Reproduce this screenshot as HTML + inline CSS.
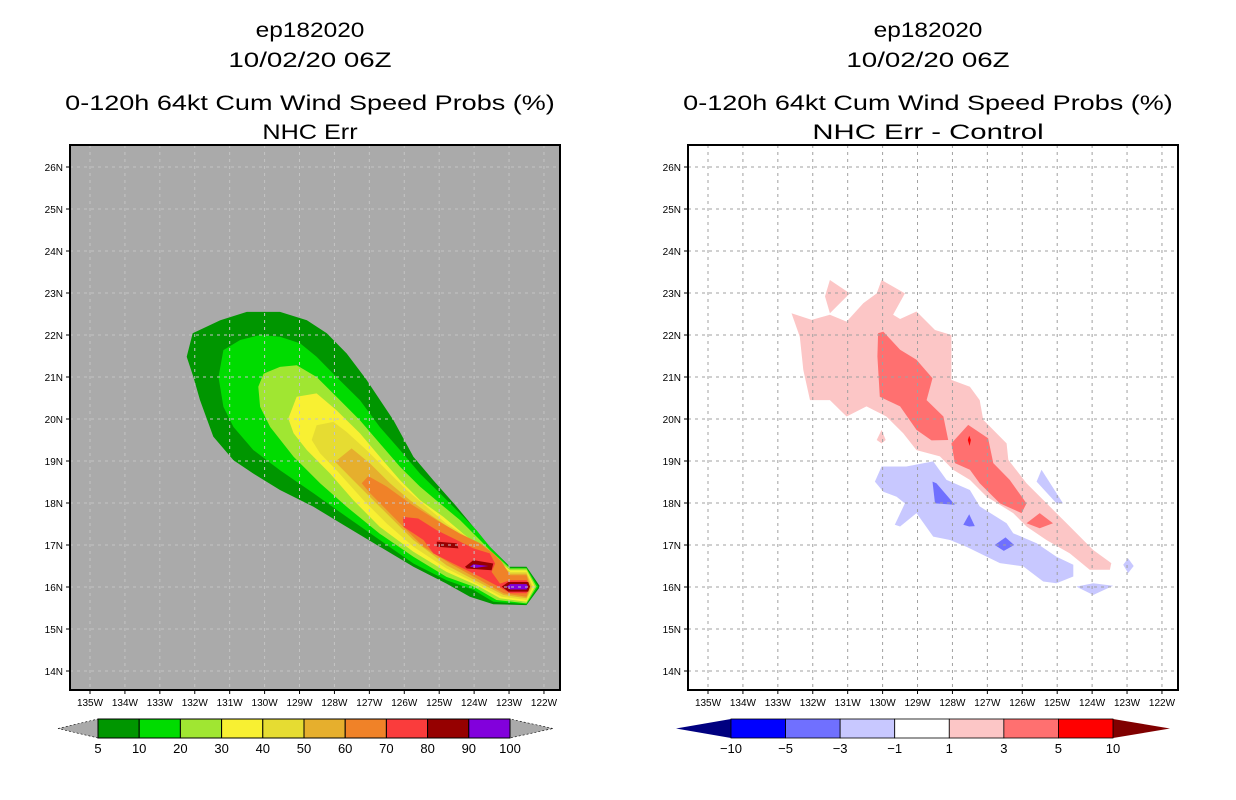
<!DOCTYPE html>
<html><head><meta charset="utf-8"><style>
html,body{margin:0;padding:0;background:#fff;width:1236px;height:800px;overflow:hidden}
svg{display:block;font-family:"Liberation Sans",sans-serif}
</style></head><body>
<svg id="chart" width="1236" height="800" viewBox="0 0 1236 800"></svg>
<script>
// ---------- data ----------
const lonTicks=[135,134,133,132,131,130,129,128,127,126,125,124,123,122];
const latTicks=[26,25,24,23,22,21,20,19,18,17,16,15,14];
const leftLevels=[5,10,20,30,40,50,60,70,80,90,100];
const leftColors=["#009600","#00dc00","#a0e632","#f8f032","#e6dc32","#e6af2d","#f08228","#fa3c3c","#960000","#8200dc"];
const rightLevels=[-10,-5,-3,-1,1,3,5,10];
const rightColors=["#0000ff","#7070ff","#c8c8ff","#ffffff","#fcc6c6","#ff7070","#ff0000"];
// left contour polygons [lonW, lat]
const p5=[[132.23,21.48],[132.06,22.04],[131.27,22.35],[130.51,22.55],[129.56,22.55],[128.79,22.35],[128.22,22.04],[127.65,21.56],[127.08,20.93],[126.31,19.97],[125.74,19.10],[125.17,18.54],[124.50,17.91],[124.02,17.43],[123.55,16.96],[122.97,16.48],[122.50,16.48],[122.11,16.01],[122.50,15.57],[123.45,15.59],[124.12,15.77],[124.79,16.08],[125.74,16.48],[126.70,16.96],[127.65,17.43],[128.60,17.91],[129.56,18.31],[130.32,18.70],[130.89,19.02],[131.47,19.58],[131.85,20.45],[132.04,21.00]];
const p10=[[131.32,21.00],[131.18,21.64],[130.70,21.88],[130.13,22.00],[129.56,21.96],[128.98,21.80],[128.51,21.48],[127.94,21.00],[127.27,20.45],[126.70,19.81],[126.12,19.26],[125.55,18.70],[124.98,18.23],[124.40,17.75],[123.93,17.35],[123.55,16.96],[122.97,16.46],[122.50,16.46],[122.16,16.01],[122.50,15.59],[123.45,15.65],[124.02,15.93],[124.79,16.16],[125.74,16.56],[126.70,17.12],[127.65,17.67],[128.60,18.23],[129.56,18.78],[130.32,19.26],[130.89,19.81],[131.18,20.29]];
const p20=[[130.18,20.77],[130.03,21.08],[129.56,21.24],[129.08,21.28],[128.51,21.00],[127.94,20.53],[127.27,19.97],[126.70,19.42],[126.12,18.86],[125.55,18.39],[124.98,17.99],[124.40,17.59],[123.93,17.20],[123.55,16.88],[122.97,16.44],[122.50,16.44],[122.21,16.01],[122.50,15.61],[123.36,15.69],[124.02,16.01],[124.79,16.24],[125.74,16.72],[126.70,17.27],[127.65,17.91],[128.41,18.47],[129.17,19.10],[129.84,19.81],[130.13,20.29]];
const p30=[[129.32,20.01],[129.08,20.53],[128.51,20.61],[127.94,20.21],[127.27,19.66],[126.70,19.10],[126.12,18.54],[125.55,18.07],[124.88,17.67],[124.31,17.27],[123.83,16.96],[123.45,16.72],[122.97,16.40],[122.50,16.40],[122.26,16.01],[122.50,15.65],[123.26,15.73],[123.93,16.04],[124.79,16.36],[125.74,16.84],[126.70,17.43],[127.46,18.07],[128.12,18.70],[128.79,19.26],[129.17,19.66]];
const p40=[[128.65,19.50],[128.51,19.85],[128.03,19.93],[127.65,19.69],[127.08,19.26],[126.50,18.78],[125.93,18.31],[125.36,17.91],[124.79,17.51],[124.21,17.20],[123.74,16.92],[123.40,16.68],[122.97,16.36],[122.50,16.36],[122.31,16.01],[122.50,15.69],[123.21,15.77],[123.93,16.08],[124.79,16.44],[125.74,16.96],[126.50,17.51],[127.17,18.07],[127.94,18.78],[128.41,19.18]];
const p50=[[127.98,18.98],[127.51,19.30],[126.98,18.94],[126.41,18.47],[125.84,18.07],[125.17,17.67],[124.60,17.35],[124.02,17.08],[123.59,16.84],[123.31,16.64],[122.97,16.32],[122.50,16.32],[122.35,16.01],[122.50,15.73],[123.16,15.81],[123.88,16.12],[124.79,16.52],[125.74,17.12],[126.31,17.59],[126.89,18.07],[127.46,18.54]];
const p60=[[127.22,18.47],[127.03,18.64],[126.50,18.39],[125.84,17.99],[125.07,17.59],[124.40,17.27],[123.83,17.04],[123.45,16.80],[123.21,16.60],[122.97,16.28],[122.50,16.28],[122.40,16.01],[122.50,15.77],[123.16,15.85],[123.83,16.16],[124.69,16.56],[125.45,16.96],[125.93,17.35],[126.50,17.83],[126.98,18.23]];
const p70=[[126.04,17.67],[125.60,17.63],[125.07,17.35],[124.50,17.12],[124.02,16.92],[123.55,16.80],[123.40,16.56],[123.50,16.36],[123.26,16.08],[122.97,16.16],[122.50,16.16],[122.40,16.01],[122.50,15.85],[122.97,15.85],[123.21,15.97],[123.83,16.24],[124.60,16.56],[125.17,16.80],[125.45,17.12],[126.02,17.43]];
const p80a=[[125.07,17.08],[124.50,17.04],[124.45,16.92],[125.07,16.96]];
const p80b=[[124.26,16.48],[124.02,16.64],[123.45,16.56],[123.50,16.40],[124.21,16.44]];
const p80c=[[123.21,16.01],[123.02,16.12],[122.45,16.12],[122.40,16.01],[122.45,15.89],[123.02,15.89]];
const p90a=[[124.12,16.48],[124.02,16.54],[123.59,16.50],[123.93,16.46]];
const p90b=[[123.07,16.01],[122.97,16.07],[122.50,16.07],[122.45,16.01],[122.50,15.94],[122.97,15.94]];
// right contour polygons
const pos1=[[132.61,22.52],[132.03,22.36],[131.51,22.48],[131.03,22.32],[130.55,22.76],[130.17,22.99],[130.03,23.31],[129.36,22.99],[129.70,22.48],[129.50,22.38],[129.03,22.56],[128.50,22.12],[128.03,22.00],[128.03,20.93],[127.50,20.77],[127.22,20.45],[127.12,19.98],[126.45,19.42],[126.40,19.03],[125.88,18.47],[125.12,17.84],[124.73,17.52],[124.35,17.20],[123.97,16.88],[123.45,16.57],[123.49,16.41],[124.07,16.41],[124.64,16.80],[125.31,17.12],[125.88,17.44],[126.26,17.76],[127.02,18.15],[127.50,18.55],[127.98,18.79],[128.36,19.11],[129.03,19.26],[129.41,19.66],[129.89,20.06],[130.46,20.30],[131.03,20.06],[131.51,20.45],[132.08,20.45],[132.27,21.17],[132.37,21.96]];
const pos1b=[[131.65,22.92],[131.51,23.31],[130.94,22.99],[131.51,22.52]];
const pos1c=[[130.17,19.50],[130.03,19.74],[129.91,19.50],[130.03,19.42]];
const pos3a=[[130.13,22.04],[129.98,22.08],[129.50,21.65],[129.03,21.41],[128.57,20.97],[128.74,20.45],[128.26,20.06],[128.12,19.50],[128.60,19.49],[129.03,19.74],[129.50,20.30],[130.08,20.53],[130.15,21.49]];
const pos3b=[[128.03,19.42],[127.55,19.86],[126.98,19.54],[126.83,18.95],[126.36,18.55],[125.88,17.99],[126.02,17.76],[126.64,17.99],[127.22,18.47],[127.50,18.79],[127.93,18.95]];
const pos3c=[[125.88,17.52],[125.50,17.76],[125.12,17.52],[125.50,17.40]];
const pos5=[[127.56,19.50],[127.52,19.60],[127.47,19.50],[127.51,19.36]];
const neg1=[[130.22,18.51],[130.03,18.87],[129.32,18.87],[128.55,18.99],[128.17,18.55],[127.50,18.31],[127.22,17.92],[126.45,17.52],[126.26,17.28],[125.59,17.04],[125.02,16.72],[124.54,16.53],[124.54,16.25],[125.02,16.09],[125.40,16.13],[125.97,16.49],[126.64,16.57],[127.60,16.96],[128.07,17.12],[128.55,17.20],[129.03,17.76],[129.50,17.44],[129.65,17.48],[129.36,17.99],[129.60,18.15],[129.98,18.27]];
const neg1b=[[125.59,18.51],[125.45,18.79],[124.83,17.99],[125.02,17.99]];
const neg1c=[[123.11,16.53],[122.97,16.68],[122.81,16.50],[122.97,16.33]];
const neg1d=[[124.45,16.01],[123.97,16.09],[123.40,16.03],[123.97,15.81]];
const neg3a=[[128.57,18.51],[128.46,18.47],[127.93,17.96],[128.50,17.99]];
const neg3b=[[127.69,17.48],[127.52,17.73],[127.36,17.45],[127.52,17.44]];
const neg3c=[[126.79,17.00],[126.48,17.18],[126.23,17.00],[126.53,16.86]];

// ---------- drawing ----------
const NS="http://www.w3.org/2000/svg";
const svg=document.getElementById('chart');
function mk(tag,attrs,parent){const e=document.createElementNS(NS,tag);for(const k in attrs)e.setAttribute(k,attrs[k]);(parent||svg).appendChild(e);return e;}
function panel(x0,name){
  const X0=x0, W=490, Y0=145, H=545;
  const xs=lw=>X0+20+(135-lw)*34.92;
  const ys=lat=>167+(26-lat)*42;
  return {X0,W,Y0,H,xs,ys,name};
}
const L=panel(70,'left'), R=panel(688,'right');

function title(p,lines,cx){
  lines.forEach((t,i)=>{
    const y=[37,67,110,139][i];
    const w=[ (t.length*13.6) ][0];
    const el=mk('text',{x:cx,y:y,'text-anchor':'middle','font-size':21,textLength:w,lengthAdjust:'spacingAndGlyphs',fill:'#000'});
    el.textContent=t;
    
    
  });
}
title(L,["ep182020","10/02/20 06Z","0-120h 64kt Cum Wind Speed Probs (%)","NHC Err"],310);
title(R,["ep182020","10/02/20 06Z","0-120h 64kt Cum Wind Speed Probs (%)","NHC Err - Control"],928);

function poly(p,pts,fill,nm){
  const d=pts.map(q=>p.xs(q[0]).toFixed(1)+','+p.ys(q[1]).toFixed(1)).join(' ');
  const e=mk('polygon',{points:d,fill:fill});
  
  
}
function frame(p,bg,gridColor){
  const g=mk('rect',{x:p.X0,y:p.Y0,width:p.W,height:p.H,fill:bg});
  
  
}
function gridAxes(p,gridColor){
  lonTicks.forEach(lw=>{
    const x=p.xs(lw);
    const gl=mk('line',{x1:x,x2:x,y1:p.Y0,y2:p.Y0+p.H,stroke:gridColor,'stroke-width':1,'stroke-dasharray':'3,4'});
    
    
    mk('line',{x1:x,x2:x,y1:p.Y0+p.H,y2:p.Y0+p.H+4,stroke:'#000','stroke-width':1});
    const t=mk('text',{x:x,y:p.Y0+p.H+16,'text-anchor':'middle','font-size':10,fill:'#000'});
    t.textContent=lw+'W';
    
    
  });
  latTicks.forEach(la=>{
    const y=p.ys(la);
    const gl=mk('line',{x1:p.X0,x2:p.X0+p.W,y1:y,y2:y,stroke:gridColor,'stroke-width':1,'stroke-dasharray':'3,4'});
    
    
    mk('line',{x1:p.X0-4,x2:p.X0,y1:y,y2:y,stroke:'#000','stroke-width':1});
    const t=mk('text',{x:p.X0-7,y:y+4,'text-anchor':'end','font-size':10,fill:'#000'});
    t.textContent=la+'N';
    
    
  });
  const b=mk('rect',{x:p.X0,y:p.Y0,width:p.W,height:p.H,fill:'none',stroke:'#000','stroke-width':2});
  
  
}
// left
frame(L,'#aaaaaa');
[[p5,0],[p10,1],[p20,2],[p30,3],[p40,4],[p50,5],[p60,6],[p70,7],[p80a,8],[p80b,8],[p80c,8],[p90a,9],[p90b,9]].forEach(([pts,i],k)=>poly(L,pts,leftColors[i],'prob-contour-'+leftLevels[i]+'-'+k));
gridAxes(L,'#c4c4c4');
// right
frame(R,'#ffffff');
[[pos1,4],[pos1b,4],[pos1c,4],[pos3a,5],[pos3b,5],[pos3c,5],[pos5,6],[neg1,2],[neg1b,2],[neg1c,2],[neg1d,2],[neg3a,1],[neg3b,1],[neg3c,1]].forEach(([pts,i],k)=>poly(R,pts,rightColors[i],'diff-contour-'+rightLevels[i]+'-'+k));
gridAxes(R,'#a0a0a0');

// colorbars
function colorbar(x0,x1,left,right,levels,colors,lc,rc,nm){
  const y0=719,y1=738,ym=728.5;
  const n=colors.length, bw=(x1-x0)/n;
  const tl=mk('polygon',{points:`${left},${ym} ${x0},${y0} ${x0},${y1}`,fill:lc,stroke:'#000','stroke-width':0.6,'stroke-dasharray':'2,2'});
  
  
  const tr=mk('polygon',{points:`${right},${ym} ${x1},${y0} ${x1},${y1}`,fill:rc,stroke:'#000','stroke-width':0.6,'stroke-dasharray':'2,2'});
  
  
  colors.forEach((c,i)=>{
    const r=mk('rect',{x:x0+i*bw,y:y0,width:bw,height:y1-y0,fill:c,stroke:'#000','stroke-width':1});
    
    
  });
  const offs=levels.length===colors.length+1?0:1;
  levels.forEach((v,i)=>{
    const t=mk('text',{x:x0+(i+offs-(offs?1:0))*bw,y:753,'text-anchor':'middle','font-size':13,fill:'#000'});
    t.textContent=String(v).replace('-','\u2212');
    
    
  });
}
colorbar(98,510,58,553,leftLevels,leftColors,'#aaaaaa','#aaaaaa','left-colorbar');
// right: levels sit on internal boundaries incl. outer edges of first/last box
(function(){
  const x0=731,x1=1113,n=rightColors.length,bw=(x1-x0)/n;
  const y0=719,y1=738,ym=728.5;
  const tl=mk('polygon',{points:`676,${ym} ${x0},${y0} ${x0},${y1}`,fill:'#000080'});
  
  
  const tr=mk('polygon',{points:`1170,${ym} ${x1},${y0} ${x1},${y1}`,fill:'#800000'});
  
  
  rightColors.forEach((c,i)=>{
    const r=mk('rect',{x:x0+i*bw,y:y0,width:bw,height:y1-y0,fill:c,stroke:'#000','stroke-width':0.8});
    
    
  });
  rightLevels.forEach((v,i)=>{
    const t=mk('text',{x:x0+i*bw,y:753,'text-anchor':'middle','font-size':13,fill:'#000'});
    t.textContent=String(v).replace('-','\u2212');
    
    
  });
})();
</script>
</body></html>
